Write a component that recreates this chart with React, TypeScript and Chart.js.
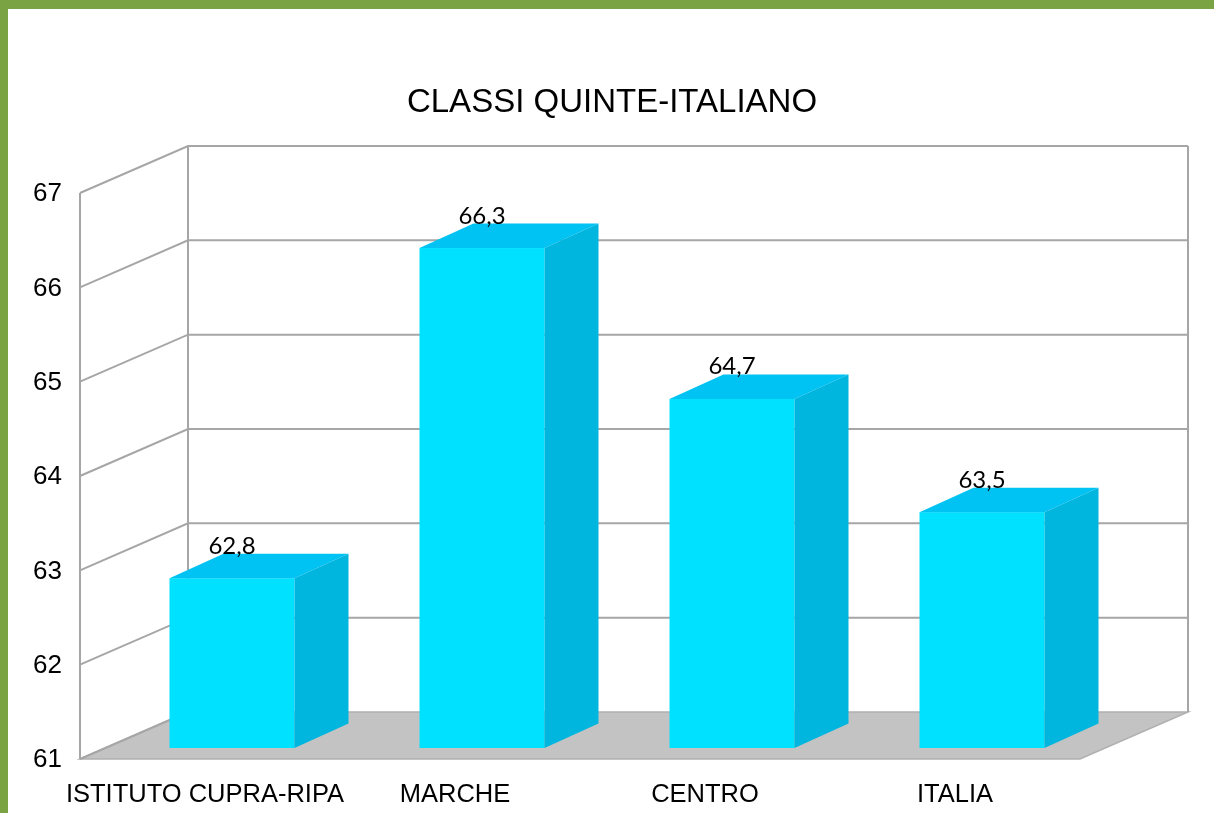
import React, { useEffect, useRef } from "react";
import { Chart, registerables } from "chart.js";

Chart.register(...registerables);

const title = "CLASSI QUINTE-ITALIANO";
const categories = ["ISTITUTO CUPRA-RIPA", "MARCHE", "CENTRO", "ITALIA"];
const values = [62.8, 66.3, 64.7, 63.5];
const valueLabels = ["62,8", "66,3", "64,7", "63,5"];
const yTicks = [61, 62, 63, 64, 65, 66, 67];

const W = 1214;
const H = 813;
const DX = 108; // depth offset x
const DY = 47; // depth offset y
const BAR_F = { x: 27, y: 11 }; // bar front offset
const BAR_B = { x: 81, y: 35.5 }; // bar back offset
const GRID = "#a6a6a6";
const ARIAL = "'Liberation Sans', Arial, sans-serif";

const threeD = {
  id: "threeD",
  beforeDraw(chart: any) {
    const ctx = chart.ctx;
    ctx.save();
    ctx.fillStyle = "#ffffff";
    ctx.fillRect(0, 0, chart.width, chart.height);
    ctx.fillStyle = "#7aa444";
    ctx.fillRect(0, 0, chart.width, 9);
    ctx.fillRect(0, 0, 8, chart.height);
    ctx.restore();
  },
  beforeDatasetsDraw(chart: any) {
    const ctx = chart.ctx;
    const { left: L, right: R } = chart.chartArea;
    const y = chart.scales.y;
    const top = y.getPixelForValue(yTicks[yTicks.length - 1]);
    const bot = y.getPixelForValue(yTicks[0]);
    ctx.save();
    // floor
    ctx.beginPath();
    ctx.moveTo(L, bot);
    ctx.lineTo(R, bot);
    ctx.lineTo(R + DX, bot - DY);
    ctx.lineTo(L + DX, bot - DY);
    ctx.closePath();
    ctx.fillStyle = "#c3c3c3";
    ctx.fill();
    ctx.strokeStyle = "#b0b0b0";
    ctx.lineWidth = 1.5;
    ctx.stroke();
    // grid lines on side and back walls
    ctx.strokeStyle = GRID;
    ctx.lineWidth = 2;
    yTicks.forEach((v, i) => {
      const py = y.getPixelForValue(v);
      ctx.beginPath();
      ctx.moveTo(L, py);
      ctx.lineTo(L + DX, py - DY);
      if (i > 0) ctx.lineTo(R + DX, py - DY);
      ctx.stroke();
    });
    // verticals
    ctx.beginPath();
    ctx.moveTo(L, top);
    ctx.lineTo(L, bot);
    ctx.moveTo(L + DX, top - DY);
    ctx.lineTo(L + DX, bot - DY);
    ctx.moveTo(R + DX, top - DY);
    ctx.lineTo(R + DX, bot - DY);
    ctx.stroke();
    ctx.restore();
  },
  afterDatasetsDraw(chart: any) {
    const ctx = chart.ctx;
    const meta = chart.getDatasetMeta(0);
    const yB = chart.scales.y.getPixelForValue(yTicks[0]);
    ctx.save();
    meta.data.forEach((el: any, i: number) => {
      const half = el.width / 2;
      const x0 = el.x - half;
      const x1 = el.x + half;
      const yT = el.y;
      // front
      ctx.fillStyle = "#00e1ff";
      ctx.fillRect(x0 + BAR_F.x, yT - BAR_F.y, x1 - x0, yB - yT);
      // top
      ctx.fillStyle = "#00c3f3";
      ctx.beginPath();
      ctx.moveTo(x0 + BAR_F.x, yT - BAR_F.y);
      ctx.lineTo(x1 + BAR_F.x, yT - BAR_F.y);
      ctx.lineTo(x1 + BAR_B.x, yT - BAR_B.y);
      ctx.lineTo(x0 + BAR_B.x, yT - BAR_B.y);
      ctx.closePath();
      ctx.fill();
      // side
      ctx.fillStyle = "#00b5de";
      ctx.beginPath();
      ctx.moveTo(x1 + BAR_F.x, yT - BAR_F.y);
      ctx.lineTo(x1 + BAR_B.x, yT - BAR_B.y);
      ctx.lineTo(x1 + BAR_B.x, yB - BAR_B.y);
      ctx.lineTo(x1 + BAR_F.x, yB - BAR_F.y);
      ctx.closePath();
      ctx.fill();
      // value label
      ctx.fillStyle = "#000";
      ctx.font = "24px Lato, 'Open Sans', sans-serif";
      ctx.textAlign = "center";
      ctx.textBaseline = "alphabetic";
      ctx.fillText(valueLabels[i], el.x + BAR_F.x, yT - BAR_B.y);
    });
    ctx.restore();
  },
  afterDraw(chart: any) {
    const ctx = chart.ctx;
    const { left: L } = chart.chartArea;
    const x = chart.scales.x;
    const y = chart.scales.y;
    ctx.save();
    ctx.fillStyle = "#000";
    // y tick labels
    ctx.font = `26px ${ARIAL}`;
    ctx.textAlign = "right";
    ctx.textBaseline = "middle";
    yTicks.forEach((v) => {
      ctx.fillText(String(v), L - 18, y.getPixelForValue(v) + 1);
    });
    // category labels
    ctx.font = `25.5px ${ARIAL}`;
    ctx.textAlign = "center";
    ctx.textBaseline = "alphabetic";
    categories.forEach((c, i) => {
      ctx.fillText(c, x.getPixelForValue(i), 802);
    });
    // title
    ctx.font = `33px ${ARIAL}`;
    ctx.fillText(title, 612, 112);
    ctx.restore();
  },
};

export default function App() {
  const ref = useRef<HTMLCanvasElement | null>(null);
  useEffect(() => {
    if (!ref.current) return;
    const chart = new Chart(ref.current, {
      type: "bar",
      data: {
        labels: categories,
        datasets: [
          {
            data: values,
            backgroundColor: "rgba(0,0,0,0)",
            borderWidth: 0,
            categoryPercentage: 1,
            barPercentage: 0.5,
          },
        ],
      },
      options: {
        responsive: false,
        animation: false,
        devicePixelRatio: 1,
        layout: { padding: { left: 80, right: W - 1080, top: 193, bottom: H - 759 } },
        plugins: { legend: { display: false }, title: { display: false }, tooltip: { enabled: false } },
        scales: {
          x: { display: false, offset: true },
          y: { display: false, min: 61, max: 67 },
        },
      },
      plugins: [threeD],
    });
    return () => chart.destroy();
  }, []);
  return (
    <div style={{ position: "absolute", left: 0, top: 0, width: W, height: H }}>
      <canvas ref={ref} width={W} height={H} style={{ display: "block" }} />
    </div>
  );
}
